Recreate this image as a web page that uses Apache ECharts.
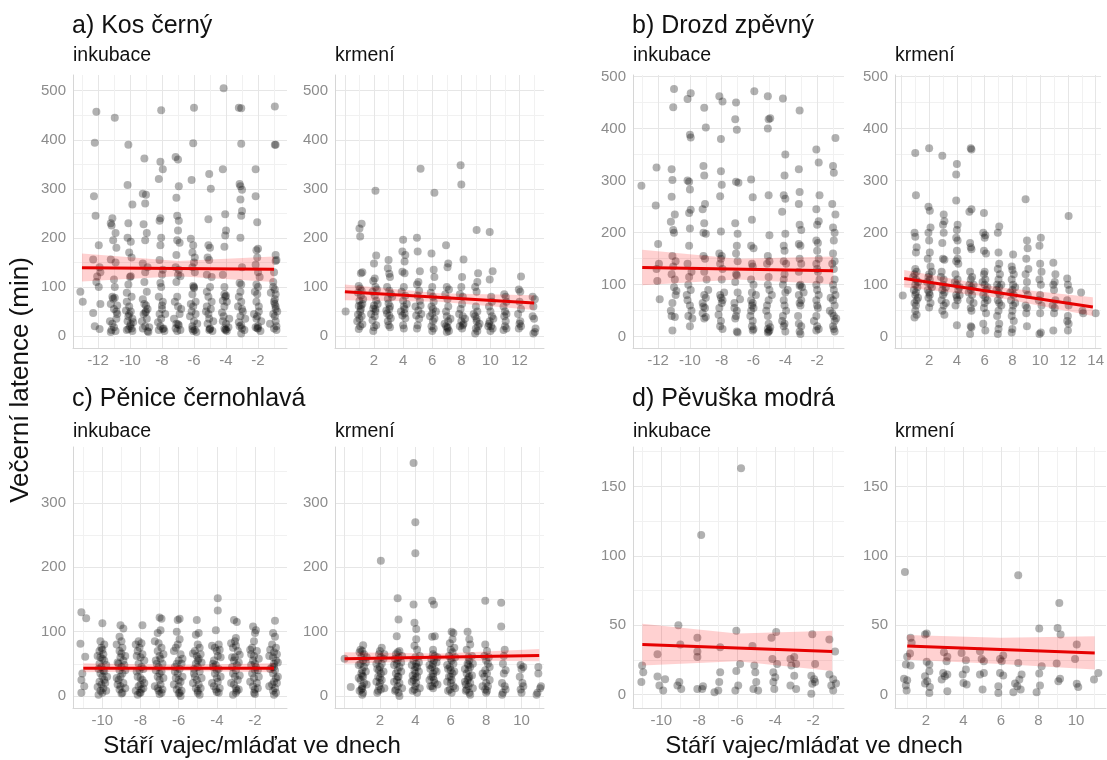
<!DOCTYPE html>
<html><head><meta charset="utf-8">
<script src="https://cdn.jsdelivr.net/npm/echarts@6/dist/echarts.min.js"></script>
<style>html,body{margin:0;padding:0;background:#fff}#c{width:1107px;height:760px}</style>
</head><body><div id="c"></div>
<script>
const FONT = "'Liberation Sans', Arial, Helvetica, sans-serif";

// ---- tick labels ----
const xLabIncLong = [-12,-10,-8,-6,-4,-2];
const xMinorIncLong = [-13,-11,-9,-7,-5,-3,-1];
const xLabIncShort = [-10,-8,-6,-4,-2];
const xMinorIncShort = [-11,-9,-7,-5,-3,-1];
const xLabKrmKos = [2,4,6,8,10,12];
const xMinorKrmKos = [1,3,5,7,9,11,13];
const xLabKrmDrozd = [2,4,6,8,10,12,14];
const xMinorKrmDrozd = [1,3,5,7,9,11,13];
const xLabKrmShort = [2,4,6,8,10];
const xMinorKrmShort = [1,3,5,7,9,11];
const yLabBig = [0,100,200,300,400,500];
const yMinorBig = [50,150,250,350,450];
const yLabPen = [0,100,200,300];
const yMinorPen = [50,150,250,350];
const yLabPev = [0,50,100,150];
const yMinorPev = [25,75,125,175];

// ---- a) Kos černý ----
const kosIncPts = [
[-13.1,90],[-12.95,70],
[-12.1,457],[-12.2,394],[-12.25,285],[-12.15,245],[-11.95,185],[-12.3,156],[-11.9,140],[-12.05,121],[-11.95,100],[-12.3,47],[-11.9,14],[-12.1,110],[-11.85,130],
[-10.95,445],[-11.1,240],[-11.2,230],[-11.15,225],[-10.9,210],[-11.05,195],[-10.85,180],[-11.2,156],[-10.9,150],[-11.0,115],[-10.95,100],[-11.1,80],[-11.05,76],[-10.95,78],[-11.0,55],[-10.85,35],[-11.1,25],[-11.15,12],[-10.9,10],[-10.8,45],[-11.2,65],[-11.0,18],
[-10.1,390],[-10.15,308],[-9.85,268],[-10.1,230],[-10.15,200],[-9.95,192],[-10.05,170],[-9.9,160],[-10.0,120],[-9.95,122],[-10.1,105],[-10.2,88],[-9.9,80],[-10.05,60],[-9.95,50],[-10.1,40],[-9.85,35],[-10.15,30],[-10.0,20],[-9.9,15],[-10.2,12],[-10.05,45],[-9.95,25],[-10.1,14],
[-9.1,362],[-9.2,290],[-9.0,288],[-9.05,270],[-9.15,228],[-8.95,210],[-9.05,195],[-9.2,148],[-8.9,140],[-9.05,130],[-9.1,110],[-8.95,90],[-9.1,65],[-8.9,55],[-9.0,50],[-9.15,45],[-8.95,35],[-9.05,20],[-9.2,15],[-8.9,10],[-9.0,62],[-9.05,48],
[-8.05,460],[-8.1,355],[-7.95,340],[-8.2,320],[-8.1,240],[-8.15,235],[-8.05,200],[-8.1,185],[-8.15,155],[-7.95,135],[-8.0,125],[-8.1,108],[-8.05,100],[-7.95,70],[-8.0,62],[-8.15,45],[-8.05,35],[-8.1,20],[-7.9,15],[-8.2,12],[-8.0,55],[-7.95,14],
[-7.15,365],[-7.0,360],[-6.95,305],[-7.1,282],[-7.05,245],[-6.95,235],[-7.0,215],[-7.05,195],[-6.9,190],[-7.1,165],[-7.15,140],[-6.95,135],[-7.0,125],[-7.1,110],[-7.05,80],[-7.0,60],[-6.9,45],[-7.1,25],[-6.95,22],[-7.15,15],[-7.05,10],[-6.85,122],[-7.0,24],
[-6.0,465],[-6.05,393],[-6.15,318],[-6.2,198],[-6.05,185],[-6.1,170],[-5.95,160],[-6.0,150],[-6.1,140],[-5.95,130],[-6.0,100],[-6.05,102],[-6.1,85],[-5.9,70],[-6.05,60],[-6.15,50],[-5.9,45],[-6.0,30],[-6.1,20],[-5.95,12],[-6.05,10],[-6.0,98],[-6.1,14],
[-5.05,330],[-4.95,300],[-5.1,238],[-5.1,185],[-5.0,180],[-5.15,160],[-5.05,155],[-5.2,125],[-4.9,120],[-5.0,100],[-5.1,80],[-5.2,60],[-4.95,55],[-5.05,35],[-5.15,25],[-5.0,15],[-5.05,12],[-4.9,70],[-5.1,45],[-5.0,14],
[-4.15,505],[-4.2,340],[-4.05,248],[-4.0,215],[-4.05,205],[-4.1,182],[-4.2,125],[-4.1,100],[-4.05,80],[-4.0,82],[-3.95,70],[-4.1,60],[-4.15,40],[-4.0,25],[-4.1,15],[-4.05,12],[-3.95,10],[-4.2,30],[-4.0,13],[-4.1,85],
[-3.2,465],[-3.05,464],[-3.05,392],[-3.15,310],[-3.1,305],[-3.0,298],[-3.1,278],[-3.0,255],[-3.05,245],[-3.1,200],[-3.0,140],[-3.05,105],[-3.15,108],[-3.1,90],[-3.05,70],[-3.0,55],[-3.1,40],[-3.15,20],[-3.0,15],[-3.05,5],[-3.2,28],[-2.95,50],[-3.05,22],
[-2.15,340],[-2.15,285],[-2.05,232],[-2.1,175],[-2.0,178],[-2.05,160],[-2.15,145],[-2.0,130],[-1.9,120],[-2.1,105],[-2.0,100],[-2.05,85],[-2.1,70],[-1.95,50],[-2.05,40],[-2.1,35],[-2.0,20],[-2.15,18],[-2.0,15],[-1.95,60],[-2.05,16],
[-0.95,468],[-0.95,390],[-0.9,390],[-0.9,165],[-0.85,155],[-0.9,153],[-1.0,130],[-1.05,110],[-0.95,95],[-0.9,85],[-0.95,75],[-1.0,70],[-0.9,60],[-1.05,45],[-0.95,40],[-0.9,30],[-1.0,15],[-0.85,12],[-1.05,100],[-0.9,55],[-0.95,65]
];
const kosIncDense = [
[-12.2,20],[-11.85,65],[-11.25,30],[-10.8,62],[-11.2,8],[-10.85,50],[-10.25,52],[-9.8,28],[-10.2,70],[-9.85,10],
[-9.25,30],[-8.8,18],[-9.2,75],[-8.85,8],[-8.25,28],[-7.8,45],[-8.2,80],[-7.85,10],[-7.25,35],[-6.8,55],[-7.2,70],[-6.85,12],
[-6.25,40],[-5.8,25],[-6.2,65],[-5.85,8],[-5.25,50],[-4.8,30],[-5.2,90],[-4.85,10],[-4.25,48],[-3.8,35],[-4.2,72],[-3.85,18],
[-3.25,60],[-2.8,35],[-3.2,80],[-2.85,12],[-2.25,45],[-1.8,30],[-2.2,90],[-1.85,10],[-1.25,25],[-0.8,50],[-1.2,88],[-0.85,20]
];
const kosIncFit = [[-13,139],[-1,136]];
const kosIncBand = [[-13,111,168],[-7,122,153],[-1,110,162]];

const kosKrmPts = [
[0.05,50],
[1.0,219],[1.15,229],[1.05,203],[1.2,130],[1.1,128],[0.95,102],[1.05,97],[1.15,92],[0.9,88],[1.1,82],[1.0,72],[1.2,65],[0.95,61],[1.1,55],[1.05,50],[0.9,44],[1.15,40],[1.0,35],[1.2,24],[1.05,20],[0.95,14],[1.1,62],
[2.1,296],[2.15,164],[2.0,148],[2.05,117],[1.95,112],[2.1,100],[2.2,95],[1.9,90],[2.05,82],[2.15,72],[2.0,62],[1.95,56],[2.1,50],[2.05,40],[1.9,32],[2.15,22],[2.0,18],[1.95,10],[2.1,55],
[3.0,155],[2.95,138],[3.05,127],[3.1,120],[2.9,100],[3.05,92],[3.15,86],[2.95,76],[3.0,66],[3.1,60],[2.9,46],[3.05,42],[3.15,36],[2.95,30],[3.0,22],[3.1,18],[3.05,55],
[3.95,172],[4.0,196],[4.15,165],[4.1,152],[3.95,131],[4.1,128],[4.05,100],[3.9,90],[4.15,82],[4.0,72],[4.05,60],[4.1,46],[3.95,42],[4.15,36],[4.0,22],[4.05,15],[4.1,55],
[5.2,341],[4.95,200],[5.0,172],[5.15,132],[5.05,110],[4.95,105],[5.1,92],[5.0,82],[5.15,72],[5.05,52],[4.9,42],[5.1,35],[5.0,22],[4.95,15],[5.2,62],
[6.15,292],[5.95,168],[6.1,135],[6.15,120],[6.0,100],[5.9,88],[6.05,80],[6.1,70],[5.95,60],[6.0,46],[6.15,35],[6.05,30],[5.95,20],[6.1,15],[6.0,10],[6.05,55],
[6.95,185],[7.1,148],[7.05,140],[7.0,100],[7.15,95],[6.9,85],[7.05,75],[7.1,60],[6.95,50],[7.0,40],[7.1,30],[6.95,20],[7.05,15],[7.15,10],[7.0,8],[7.05,18],
[7.95,348],[8.0,309],[8.15,156],[8.05,120],[8.0,100],[7.9,85],[8.1,80],[8.05,65],[7.95,55],[8.1,40],[8.0,30],[8.15,25],[7.9,20],[8.05,15],[8.1,22],
[9.05,216],[9.15,128],[9.1,110],[8.95,100],[9.05,90],[9.0,60],[9.1,50],[8.95,40],[9.05,30],[9.15,20],[9.0,15],[9.1,10],[8.95,5],[9.05,35],
[9.95,212],[10.15,132],[9.95,115],[10.05,80],[10.1,70],[9.9,60],[10.0,50],[10.1,40],[9.95,30],[10.05,20],[10.15,15],[10.0,10],[9.9,25],
[10.95,85],[11.05,80],[11.1,70],[10.9,60],[11.0,50],[11.1,45],[10.95,40],[11.05,30],[11.0,20],[11.1,15],[10.9,12],
[12.1,121],[11.95,95],[12.05,90],[12.0,70],[12.1,55],[11.9,45],[12.05,30],[12.0,25],[12.1,20],[11.95,15],
[12.9,80],[13.05,75],[12.95,60],[12.9,40],[13.0,35],[13.1,15],[13.05,8],[12.95,5]
];
const kosKrmDense = [
[1.25,75],[0.85,30],[2.25,65],[1.8,45],[3.25,80],[2.85,52],[4.25,65],[3.85,50],[5.25,45],[4.85,60],
[6.25,50],[5.85,40],[7.25,35],[6.85,25],[8.25,35],[7.85,45],[9.25,25],[8.85,45],[10.2,35],[9.85,20]
];
const kosKrmFit = [[0,90],[13,67]];
const kosKrmBand = [[0,73,105],[6.5,70,87],[13,53,83]];

// ---- b) Drozd zpěvný ----
const drozdIncPts = [
[-13.05,290],
[-12.1,325],[-12.15,252],[-12.0,178],[-11.95,140],[-12.1,130],[-12.05,107],[-11.9,72],
[-11.0,476],[-11.05,441],[-11.15,322],[-11.1,301],[-11.15,269],[-10.95,235],[-11.2,221],[-11.05,205],[-11.0,200],[-11.1,155],[-10.9,145],[-11.05,135],[-11.15,120],[-10.95,110],[-11.0,95],[-10.9,80],[-11.1,65],[-11.15,40],[-10.95,38],[-11.1,12],
[-10.15,457],[-9.95,468],[-10.0,388],[-9.95,383],[-10.15,300],[-10.05,298],[-10.0,283],[-9.95,244],[-10.05,238],[-10.0,208],[-10.05,175],[-10.15,140],[-9.9,125],[-10.05,115],[-10.1,100],[-9.95,90],[-10.15,70],[-10.0,60],[-9.9,50],[-10.1,40],[-10.0,20],
[-9.1,440],[-9.0,402],[-9.15,328],[-9.1,310],[-9.05,255],[-9.2,245],[-9.1,218],[-9.15,200],[-9.0,198],[-9.15,155],[-9.05,150],[-9.1,125],[-8.95,110],[-9.1,80],[-9.0,75],[-9.15,58],[-9.05,55],[-9.2,45],[-9.0,38],[-9.1,35],
[-8.15,462],[-7.95,452],[-8.05,380],[-8.05,318],[-8.0,292],[-8.1,270],[-8.05,202],[-8.15,160],[-8.0,155],[-8.05,150],[-8.1,140],[-7.95,130],[-8.0,110],[-8.1,80],[-8.05,75],[-7.95,70],[-8.0,65],[-8.15,55],[-8.05,30],[-8.1,20],[-7.95,15],
[-7.1,450],[-7.15,418],[-7.05,398],[-7.1,298],[-6.95,296],[-7.15,218],[-7.0,198],[-7.05,175],[-7.1,160],[-7.0,145],[-7.1,120],[-7.05,118],[-7.15,105],[-7.0,85],[-7.2,65],[-7.05,50],[-7.1,40],[-7.15,35],[-7.05,10],[-7.0,8],
[-5.95,472],[-6.15,302],[-6.05,268],[-6.1,225],[-6.15,175],[-6.0,170],[-6.1,140],[-6.05,135],[-6.15,110],[-6.0,100],[-6.1,85],[-6.15,70],[-6.05,65],[-6.1,60],[-6.0,55],[-6.15,50],[-6.05,30],[-6.1,20],[-6.0,15],[-6.05,12],
[-5.1,462],[-5.05,418],[-4.95,420],[-5.1,400],[-5.05,272],[-5.0,195],[-5.1,155],[-5.0,145],[-5.15,140],[-5.05,115],[-5.1,100],[-5.0,90],[-5.05,70],[-5.15,60],[-5.1,40],[-5.05,25],[-4.95,18],[-5.1,15],[-5.0,12],[-5.05,10],[-5.1,8],
[-4.15,458],[-4.0,350],[-4.05,310],[-4.1,272],[-4.0,265],[-4.2,240],[-4.0,198],[-4.1,175],[-4.05,165],[-4.1,145],[-3.95,140],[-4.05,120],[-4.1,110],[-4.15,100],[-4.0,85],[-4.1,70],[-4.05,60],[-3.95,50],[-4.15,40],[-4.05,25],[-4.1,20],[-4.0,10],
[-3.1,435],[-3.15,322],[-3.1,278],[-3.15,255],[-3.1,215],[-3.0,205],[-3.15,178],[-3.05,175],[-3.1,150],[-3.0,140],[-3.15,125],[-3.05,100],[-3.1,98],[-2.95,95],[-3.15,80],[-3.0,70],[-3.1,65],[-3.05,60],[-3.15,25],[-3.0,20],[-3.1,10],[-3.05,5],
[-2.05,360],[-1.9,335],[-1.85,272],[-2.05,245],[-1.9,222],[-2.0,215],[-2.05,185],[-1.95,180],[-2.0,165],[-1.9,150],[-2.05,140],[-2.0,130],[-1.95,125],[-2.05,100],[-2.0,90],[-1.9,80],[-2.05,70],[-2.0,60],[-1.95,55],[-2.05,40],[-2.0,20],[-1.9,15],[-2.05,12],
[-0.85,382],[-1.0,328],[-0.95,315],[-1.05,255],[-0.85,235],[-1.0,210],[-0.9,200],[-0.95,185],[-1.0,160],[-0.9,145],[-1.05,140],[-0.95,130],[-0.9,110],[-1.0,100],[-0.95,90],[-0.85,80],[-1.0,70],[-0.9,60],[-1.05,45],[-0.95,40],[-0.9,30],[-1.0,20],[-0.95,15],[-0.9,10]
];
const drozdIncDense = [
[-11.2,50],[-10.85,88],[-10.2,80],[-9.85,35],[-9.2,65],[-8.85,90],[-8.2,42],[-7.85,85],[-7.2,55],[-6.85,72],
[-6.2,40],[-5.85,80],[-5.2,50],[-4.85,80],[-4.2,30],[-3.85,90],[-3.2,40],[-2.85,85],[-2.2,30],[-1.85,110],
[-1.2,50],[-0.8,35],[-1.15,75]
];
const drozdIncFit = [[-13,133],[-1,127]];
const drozdIncBand = [[-13,99,167],[-7,110,150],[-1,101,154]];

const drozdKrmPts = [
[0.1,79],
[1.0,353],[1.05,272],[0.95,200],[1.0,192],[1.1,172],[1.05,162],[1.0,130],[1.1,125],[0.95,120],[1.05,110],[1.0,100],[1.15,95],[0.9,90],[1.05,85],[1.0,80],[1.1,70],[0.95,65],[1.05,60],[1.0,50],[1.1,42],[0.95,37],
[2.0,362],[1.95,250],[2.05,242],[2.1,210],[1.95,200],[2.0,185],[2.05,162],[1.9,150],[2.1,135],[2.0,120],[1.95,115],[2.05,110],[2.1,100],[1.9,90],[2.0,85],[2.05,80],[1.95,75],[2.1,65],[2.0,56],
[2.95,348],[3.05,235],[3.1,222],[3.0,215],[3.05,200],[2.95,180],[3.0,150],[3.1,148],[2.9,125],[3.05,110],[3.0,100],[2.95,90],[3.1,85],[3.0,80],[2.9,70],[3.05,60],[2.95,50],[3.1,42],
[4.0,332],[3.95,312],[3.95,262],[4.05,215],[4.0,205],[3.95,190],[4.05,185],[4.0,165],[4.05,150],[3.95,145],[4.1,140],[3.9,120],[4.05,110],[4.0,100],[4.1,90],[3.95,80],[4.0,75],[4.05,70],[3.9,60],[4.0,22],
[5.0,362],[5.05,360],[4.9,240],[5.05,245],[4.95,180],[5.0,172],[5.05,168],[4.95,125],[5.1,115],[5.0,110],[4.9,100],[5.05,95],[5.0,90],[5.1,80],[4.95,70],[5.0,55],[5.05,50],[5.0,20],[5.05,18],[4.95,5],
[5.95,238],[5.9,200],[6.05,195],[6.0,190],[5.95,165],[6.1,160],[6.0,125],[5.95,120],[6.05,110],[6.0,100],[6.1,90],[5.9,80],[6.05,75],[6.0,65],[5.95,55],[6.1,45],[5.9,25],[6.05,12],
[7.05,212],[6.95,200],[7.0,162],[7.05,140],[6.95,130],[7.1,120],[7.0,110],[6.9,100],[7.05,95],[7.0,85],[7.1,80],[6.95,70],[7.05,65],[7.0,50],[6.9,40],[7.05,25],[7.0,15],[6.95,5],
[8.05,158],[7.95,135],[8.0,128],[8.1,120],[7.95,110],[8.05,100],[8.0,90],[8.1,80],[7.9,70],[8.05,60],[8.0,50],[7.95,40],[8.1,30],[8.0,15],[7.95,8],
[8.95,264],[9.05,185],[9.1,170],[9.0,150],[9.15,130],[8.95,120],[9.05,105],[9.0,90],[9.1,80],[8.95,60],[9.05,55],[9.0,45],[9.05,20],
[10.05,190],[9.95,175],[10.0,140],[10.1,125],[9.95,110],[10.05,100],[10.0,80],[9.9,70],[10.1,60],[10.0,45],[10.05,8],[9.95,5],
[10.95,142],[11.1,120],[11.05,105],[10.95,100],[11.0,90],[11.1,70],[10.9,60],[11.05,55],[11.0,45],[10.95,12],
[12.05,232],[11.95,112],[12.0,100],[12.1,90],[11.95,70],[12.05,60],[12.0,40],[11.95,30],[12.05,25],[12.0,12],
[12.95,85],[13.05,50],[13.1,45],
[14.0,45]
];
const drozdKrmDense = [
[1.2,105],[0.85,115],[1.2,75],[2.2,95],[1.85,105],[2.2,125],[3.2,95],[2.85,115],[3.2,65],[4.2,95],[3.85,105],[4.2,80],
[5.2,100],[4.85,85],[5.2,65],[6.2,95],[5.85,105],[6.2,70],[7.2,100],[6.85,90],[7.2,60],[8.2,95],[7.85,85],[8.2,65]
];
const drozdKrmFit = [[0.2,112],[13.8,57]];
const drozdKrmBand = [[0.2,95,128],[7,75,95],[13.8,40,76]];

// ---- c) Pěnice černohlavá ----
const penIncPts = [
[-11.1,130],[-10.85,121],[-11.15,81],[-10.9,61],[-11.05,35],[-11.1,25],[-10.95,15],[-11.1,5],
[-10.0,113],[-10.1,85],[-9.9,80],[-10.05,75],[-10.15,70],[-9.95,65],[-10.1,60],[-10.0,58],[-9.9,55],[-10.15,50],[-10.05,45],[-9.95,40],[-10.1,35],[-10.0,30],[-9.9,25],[-10.15,22],[-10.05,18],[-9.95,12],[-10.1,8],[-10.0,5],
[-9.05,110],[-8.9,105],[-9.1,92],[-9.0,85],[-8.95,75],[-9.1,70],[-9.05,60],[-8.9,55],[-9.15,50],[-9.0,45],[-9.1,40],[-8.95,35],[-9.05,30],[-9.15,25],[-8.9,20],[-9.05,15],[-9.1,10],[-8.95,5],
[-7.9,110],[-8.1,85],[-7.95,82],[-8.05,75],[-8.15,70],[-7.9,65],[-8.0,60],[-8.1,50],[-7.95,45],[-8.05,40],[-8.15,30],[-7.9,25],[-8.0,18],[-8.1,15],[-7.95,10],[-8.05,5],[-8.15,2],
[-7.0,122],[-6.9,120],[-6.95,102],[-7.1,98],[-7.05,82],[-6.9,75],[-7.1,70],[-7.0,62],[-6.95,58],[-7.15,50],[-7.05,45],[-6.9,38],[-7.1,30],[-7.0,25],[-6.95,18],[-7.1,12],[-7.05,8],[-6.9,5],
[-5.95,120],[-6.05,118],[-6.1,100],[-5.95,88],[-6.05,80],[-6.15,75],[-5.9,65],[-6.0,55],[-6.1,50],[-5.95,42],[-6.05,35],[-6.15,28],[-5.9,22],[-6.0,15],[-6.1,10],[-5.95,5],[-5.9,0],
[-5.05,118],[-4.95,98],[-5.1,95],[-5.0,80],[-4.9,75],[-5.15,70],[-5.05,62],[-4.95,58],[-5.1,50],[-5.0,45],[-4.9,38],[-5.15,30],[-5.05,25],[-4.95,18],[-5.1,12],[-5.0,8],[-4.9,2],
[-3.95,152],[-3.95,133],[-4.05,102],[-3.9,80],[-4.1,75],[-4.0,70],[-3.95,62],[-4.15,55],[-4.05,48],[-3.9,42],[-4.1,35],[-4.0,28],[-3.95,22],[-4.15,15],[-4.05,10],[-3.9,5],
[-3.1,118],[-2.95,115],[-3.0,90],[-3.05,85],[-3.15,75],[-2.9,70],[-3.05,60],[-3.1,55],[-2.95,48],[-3.0,40],[-3.15,35],[-3.05,30],[-2.9,25],[-3.1,18],[-3.0,12],[-2.95,8],[-3.15,2],
[-2.1,108],[-1.95,102],[-2.0,98],[-2.05,85],[-2.15,75],[-1.9,70],[-2.05,62],[-2.1,55],[-1.95,45],[-2.0,40],[-2.15,35],[-2.05,28],[-1.9,20],[-2.1,15],[-2.0,10],[-2.05,5],
[-0.95,117],[-1.05,98],[-0.95,92],[-1.1,80],[-0.9,75],[-1.0,68],[-1.05,60],[-0.9,55],[-1.0,50],[-1.1,45],[-0.95,40],[-1.05,35],[-0.9,28],[-1.0,22],[-1.1,18],[-0.95,12],[-1.05,8],[-0.9,5]
];
const penIncDense = [
[-10.25,62],[-9.8,48],[-10.2,42],[-9.75,30],[-10.25,14],[-9.8,8],[-10.0,72],[-9.85,20],[-10.2,2],[-9.9,38],
[-9.25,80],[-8.8,62],[-9.2,52],[-8.8,40],[-9.25,28],[-8.8,12],[-9.0,4],[-9.2,18],[-8.85,48],[-9.0,66],
[-8.25,80],[-7.8,55],[-8.2,38],[-7.8,20],[-8.25,8],[-7.85,12],[-8.0,28],[-8.2,62],[-7.85,42],[-8.0,5],
[-7.25,85],[-6.8,65],[-7.2,40],[-6.8,28],[-7.25,15],[-6.85,10],[-7.0,3],[-7.2,55],[-6.85,50],[-7.0,35],
[-6.25,70],[-5.8,58],[-6.2,45],[-5.8,30],[-6.25,18],[-5.85,8],[-6.0,4],[-6.2,38],[-5.85,50],[-6.0,25],
[-5.25,66],[-4.8,52],[-5.2,42],[-4.8,28],[-5.25,20],[-4.85,12],[-5.0,5],[-5.2,35],[-4.85,65],[-5.0,55],
[-4.25,78],[-3.8,60],[-4.2,50],[-3.8,30],[-4.25,20],[-3.85,12],[-4.0,6],[-4.2,45],[-3.85,72],[-4.0,40],
[-3.25,82],[-2.8,64],[-3.2,45],[-2.8,32],[-3.25,20],[-2.85,10],[-3.0,5],[-3.2,60],[-2.85,52],[-3.0,78],
[-2.25,72],[-1.8,58],[-2.2,48],[-1.8,30],[-2.25,22],[-1.85,12],[-2.0,3],[-2.2,65],[-1.85,40],[-2.0,50],
[-1.25,62],[-0.8,52],[-1.2,42],[-0.8,30],[-1.25,15],[-0.85,20],[-1.0,2],[-1.2,72],[-0.85,65],[-1.0,45]
];
const penIncFit = [[-11,43],[-1,43]];
const penIncBand = [[-11,37,51],[-6,39,48],[-1,37,51]];

const penKrmPts = [
[0.0,58],[0.35,14],
[1.05,79],[0.9,72],[1.0,70],[1.1,65],[0.95,60],[1.05,55],[0.9,50],[1.1,45],[1.0,40],[0.95,35],[1.05,30],[0.9,25],[1.1,20],[1.0,15],[0.95,10],[1.05,5],[1.0,2],
[2.05,210],[2.1,75],[1.95,65],[2.05,60],[1.9,55],[2.1,50],[2.0,45],[1.95,40],[2.05,35],[1.9,30],[2.1,25],[2.0,20],[1.95,15],[2.05,10],[1.9,8],
[3.0,152],[3.05,119],[2.95,93],[3.1,70],[2.9,65],[3.05,60],[3.0,55],[2.95,50],[3.1,45],[3.0,40],[2.9,35],[3.05,30],[2.95,25],[3.1,20],[3.0,15],[2.9,10],[3.05,5],[3.1,0],
[3.9,362],[4.0,270],[4.0,222],[3.9,142],[3.95,114],[4.05,104],[4.05,88],[3.95,78],[4.1,72],[4.0,60],[3.9,55],[4.05,50],[4.1,45],[3.95,40],[4.0,35],[4.1,30],[3.9,25],[4.05,20],[4.0,15],[3.95,10],[4.1,5],
[4.95,148],[5.05,142],[5.1,93],[4.95,92],[5.0,72],[5.1,62],[4.9,58],[5.05,55],[5.0,50],[4.95,45],[5.1,40],[5.0,35],[4.9,30],[5.05,25],[5.1,20],[4.95,15],[5.0,12],
[6.05,100],[6.15,98],[6.1,88],[5.95,82],[6.0,72],[6.1,68],[5.9,62],[6.05,55],[6.15,50],[5.95,45],[6.0,40],[6.1,35],[5.9,30],[6.05,25],[6.0,20],[6.15,15],[5.95,10],[6.05,5],
[6.95,100],[7.05,88],[7.1,80],[6.9,72],[7.0,60],[7.05,55],[6.95,50],[7.1,45],[7.0,40],[6.9,35],[7.05,30],[6.95,25],[7.1,20],[7.0,15],[6.9,10],[7.05,5],[7.1,2],
[7.95,148],[7.95,80],[8.05,70],[7.9,62],[8.0,55],[8.1,50],[7.95,40],[8.05,35],[7.9,30],[8.0,20],[8.1,15],[7.95,10],[8.05,8],
[8.85,145],[8.85,108],[9.05,72],[9.0,62],[8.95,50],[9.1,40],[9.0,35],[8.9,20],[9.05,15],[9.1,10],[8.95,5],[8.9,2],
[9.95,48],[10.1,45],[10.0,42],[9.9,30],[10.05,20],[10.1,15],[9.95,10],[10.0,5],
[10.95,45],[10.95,35],[11.1,15],[11.05,12],[10.9,5],[10.85,2]
];
const penKrmDense = [
[1.25,60],[0.8,48],[1.2,38],[0.8,28],[1.25,18],[0.85,8],[1.0,12],[1.2,52],[0.85,68],[1.0,32],
[2.25,65],[1.8,50],[2.2,38],[1.8,22],[2.25,12],[1.85,5],[2.0,28],[2.2,58],[1.85,42],[2.0,70],
[3.25,62],[2.8,48],[3.2,38],[2.8,22],[3.25,12],[2.85,8],[3.0,30],[3.2,52],[2.85,58],[3.0,68],
[4.25,62],[3.8,48],[4.2,38],[3.8,22],[4.25,12],[3.85,8],[4.0,28],[4.2,52],[3.85,32],[4.0,45],
[5.25,60],[4.8,48],[5.2,38],[4.8,25],[5.25,18],[4.85,15],[5.0,30],[5.2,52],[4.85,42],[5.0,65],
[6.25,60],[5.8,48],[6.2,38],[5.8,22],[6.25,12],[5.85,8],[6.0,30],[6.2,75],[5.85,42],[6.0,58],
[7.25,50],[6.8,42],[7.2,32],[6.8,22],[7.25,12],[6.85,8],[7.0,28],[7.2,62],[6.85,18],[7.0,48],
[8.2,45],[7.8,35],[8.2,25],[7.8,15],[8.0,5],[8.15,60]
];
const penKrmFit = [[0,58],[11,63]];
const penKrmBand = [[0,50,68],[5.5,55,66],[11,54,73]];

// ---- d) Pěvuška modrá ----
const pevIncPts = [
[-11.01,21],[-10.95,16],[-11.05,9],[-10.2,29],[-10.2,13],[-10.1,6.5],[-9.8,11],[-9.9,3],
[-9.1,50],[-9.0,36],[-9.15,6.5],[-8.95,4],[-9.05,9],
[-8.1,41],[-8.1,31],[-8.1,27],[-7.9,115],[-8.1,4],[-7.85,4],[-7.8,6],
[-7.2,1.7],[-7.0,3],[-6.9,34],[-6.9,16],[-6.95,9],
[-6.05,46],[-5.85,22],[-6.05,17],[-6.1,3],[-5.95,6.5],[-5.8,163],
[-5.2,35],[-5.1,21],[-5.05,16],[-5.0,9],[-5.15,4],[-4.9,3],
[-4.2,41],[-3.95,45],[-4.15,25.6],[-3.9,22],[-4.1,16],[-4.1,9],[-4.0,12.5],[-4.05,4],
[-3.2,25.6],[-3.0,27],[-3.15,21],[-2.9,22],[-3.2,6.5],[-2.9,4],[-3.0,13.6],
[-2.05,43.5],[-1.9,22],[-2.1,13.6],[-1.95,11],[-2.05,7.7],[-1.9,9],[-2.1,0.5],
[-1.15,39.6],[-0.85,31],[-1.15,14.4],[-0.95,11],[-1.05,6.5],[-0.8,8],[-0.95,3]
];
const pevIncFit = [[-11,36],[-1,31]];
const pevIncBand = [[-11,21,51],[-6,24,44],[-1,17,46]];

const pevKrmPts = [
[0.88,88.4],[1.18,40.9],[1.24,37.3],[1.15,29.6],[1.0,27.2],[0.93,21.6],[1.18,20.9],[0.83,11.3],[1.0,10.3],[0.93,6.5],[0.97,2.9],
[1.95,43.3],[2.04,44],[2.04,23.6],[2.18,21.6],[2.18,16.8],[1.95,13.2],[2.07,9.6],[1.95,8],[2.21,5.5],[2.18,1.2],
[2.96,30.5],[3.1,24],[3.14,27.2],[2.92,15.6],[3.01,13.2],[2.84,10.8],[3.14,14.4],[3.14,2.4],
[3.9,30],[4.13,24.7],[4.13,18],[3.96,14.4],[4.0,8.4],[4.17,7.2],
[4.88,31.2],[4.97,25.7],[5.09,24],[4.88,14.4],[5.09,15.6],[5.02,3.6],
[6.12,28.1],[5.95,25.7],[6.04,24],[5.95,15.6],[6.12,13.7],[5.86,6],[5.86,1.2],
[6.92,86],[6.92,22.8],[7.1,14.4],[6.98,10.8],[6.75,8],[6.87,6],[7.05,3.6],[6.66,1.7],
[8.04,47.6],[8.17,20.4],[8.04,15.1],[8.08,6.5],[7.9,1.7],
[9.02,48],[9.11,66],[9.18,43.3],[8.97,22.3],[9.15,11.3],[9.06,9.6],
[10.04,36],[9.95,25.7],[10.04,7.7],[10.12,5.5],
[10.96,10.8],[11.19,15.6]
];
const pevKrmFit = [[1,35],[11,30]];
const pevKrmBand = [[1,25,43],[6,22,41],[11,18,42]];

// ---- layout (positions / ranges) ----
const panels = [
 {left:73, top:75, width:214, height:273, xmin:-13.56, xmax:-0.19, ymin:-24.5, ymax:532, pts:kosIncPts.concat(kosIncDense), fit:kosIncFit, band:kosIncBand, xLab:xLabIncLong, xMaj:xLabIncLong, xMin:xMinorIncLong, yLab:yLabBig, yMin:yMinorBig},
 {left:335, top:75, width:209, height:273, xmin:-0.68, xmax:13.68, ymin:-24.5, ymax:532, pts:kosKrmPts.concat(kosKrmDense), fit:kosKrmFit, band:kosKrmBand, xLab:xLabKrmKos, xMaj:[0].concat(xLabKrmKos), xMin:xMinorKrmKos, yLab:yLabBig, yMin:yMinorBig},
 {left:633, top:75, width:211, height:273, xmin:-13.58, xmax:-0.31, ymin:-21.7, ymax:503, pts:drozdIncPts.concat(drozdIncDense), fit:drozdIncFit, band:drozdIncBand, xLab:xLabIncLong, xMaj:xLabIncLong, xMin:xMinorIncLong, yLab:yLabBig, yMin:yMinorBig},
 {left:895, top:75, width:211, height:273, xmin:-0.46, xmax:14.39, ymin:-21.7, ymax:503, pts:drozdKrmPts.concat(drozdKrmDense), fit:drozdKrmFit, band:drozdKrmBand, xLab:xLabKrmDrozd, xMaj:[0].concat(xLabKrmDrozd), xMin:xMinorKrmDrozd, yLab:yLabBig, yMin:yMinorBig},
 {left:73, top:447, width:214, height:261, xmin:-11.54, xmax:-0.32, ymin:-18.7, ymax:387, pts:penIncPts.concat(penIncDense), fit:penIncFit, band:penIncBand, xLab:xLabIncShort, xMaj:xLabIncShort, xMin:xMinorIncShort, yLab:yLabPen, yMin:yMinorPen},
 {left:335, top:447, width:209, height:261, xmin:-0.54, xmax:11.27, ymin:-18.7, ymax:387, pts:penKrmPts.concat(penKrmDense), fit:penKrmFit, band:penKrmBand, xLab:xLabKrmShort, xMaj:[0].concat(xLabKrmShort), xMin:xMinorKrmShort, yLab:yLabPen, yMin:yMinorPen},
 {left:633, top:447, width:211, height:261, xmin:-11.49, xmax:-0.38, ymin:-9.7, ymax:178.4, pts:pevIncPts, fit:pevIncFit, band:pevIncBand, xLab:xLabIncShort, xMaj:xLabIncShort, xMin:xMinorIncShort, yLab:yLabPev, yMin:yMinorPev},
 {left:895, top:447, width:211, height:261, xmin:0.35, xmax:11.6, ymin:-9.7, ymax:178.4, pts:pevKrmPts, fit:pevKrmFit, band:pevKrmBand, xLab:xLabKrmShort, xMaj:xLabKrmShort, xMin:xMinorKrmShort, yLab:yLabPev, yMin:yMinorPev}
];

const grids = [], xAxes = [], yAxes = [], series = [];
const TICKC = '#8c8c8c', MAJ = '#e6e6e6', MINC = '#f1f1f1', AXL = '#d6d6d6';
panels.forEach((p, i) => {
  grids.push({left:p.left, top:p.top, width:p.width, height:p.height, containLabel:false});
  xAxes.push({type:'value', gridIndex:i, min:p.xmin, max:p.xmax, position:'bottom',
    axisLine:{show:true, onZero:false, lineStyle:{color:AXL, width:1}},
    axisTick:{show:false, customValues:p.xMaj},
    axisLabel:{customValues:p.xLab, color:TICKC, fontSize:15, fontFamily:FONT, margin:5},
    splitLine:{show:true, lineStyle:{color:MAJ, width:1}}});
  xAxes.push({type:'value', gridIndex:i, min:p.xmin, max:p.xmax, position:'top',
    axisLine:{show:false}, axisTick:{show:false, customValues:p.xMin}, axisLabel:{show:false},
    splitLine:{show:true, lineStyle:{color:MINC, width:1}}});
  yAxes.push({type:'value', gridIndex:i, min:p.ymin, max:p.ymax, position:'left',
    axisLine:{show:true, onZero:false, lineStyle:{color:AXL, width:1}},
    axisTick:{show:false, customValues:p.yLab},
    axisLabel:{customValues:p.yLab, color:TICKC, fontSize:15, fontFamily:FONT, margin:7},
    splitLine:{show:true, lineStyle:{color:MAJ, width:1}}});
  yAxes.push({type:'value', gridIndex:i, min:p.ymin, max:p.ymax, position:'right',
    axisLine:{show:false}, axisTick:{show:false, customValues:p.yMin}, axisLabel:{show:false},
    splitLine:{show:true, lineStyle:{color:MINC, width:1}}});
  const xi = 2*i, yi = 2*i;
  series.push({type:'scatter', xAxisIndex:xi, yAxisIndex:yi, data:p.pts, symbolSize:8,
    itemStyle:{color:'rgba(0,0,0,0.38)'}, z:2, silent:true});
  const band = p.band;
  series.push({type:'custom', xAxisIndex:xi, yAxisIndex:yi, data:band, z:3, silent:true,
    encode:{x:0, y:1},
    renderItem:function(params, api){
      if (params.dataIndex !== 0) return null;
      const up = band.map(b => api.coord([b[0], b[2]]));
      const lo = band.map(b => api.coord([b[0], b[1]])).reverse();
      return {type:'polygon', shape:{points:up.concat(lo)}, style:{fill:'rgba(255,0,0,0.18)'}};
    }});
  series.push({type:'line', xAxisIndex:xi, yAxisIndex:yi, data:p.fit, symbol:'none', z:4, silent:true,
    lineStyle:{color:'#e60000', width:3}});
});

const titleStyle = {fontSize:25, fontWeight:'normal', color:'#111', fontFamily:FONT};
const stripStyle = {fontSize:19.5, fontWeight:'normal', color:'#111', fontFamily:FONT};
const titles = [
 {text:'a) Kos černý', left:72, top:14, padding:0, textStyle:titleStyle},
 {text:'b) Drozd zpěvný', left:632, top:14, padding:0, textStyle:titleStyle},
 {text:'c) Pěnice černohlavá', left:72, top:387, padding:0, textStyle:titleStyle},
 {text:'d) Pěvuška modrá', left:632, top:387, padding:0, textStyle:titleStyle},
 {text:'inkubace', left:73, top:46, padding:0, textStyle:stripStyle},
 {text:'krmení', left:335, top:46, padding:0, textStyle:stripStyle},
 {text:'inkubace', left:633, top:46, padding:0, textStyle:stripStyle},
 {text:'krmení', left:895, top:46, padding:0, textStyle:stripStyle},
 {text:'inkubace', left:73, top:422, padding:0, textStyle:stripStyle},
 {text:'krmení', left:335, top:422, padding:0, textStyle:stripStyle},
 {text:'inkubace', left:633, top:422, padding:0, textStyle:stripStyle},
 {text:'krmení', left:895, top:422, padding:0, textStyle:stripStyle}
];

const chart = echarts.init(document.getElementById('c'));
chart.setOption({
  animation:false,
  backgroundColor:'#ffffff',
  title: titles,
  grid: grids, xAxis: xAxes, yAxis: yAxes, series: series,
  graphic: [
    {type:'text', x:21, y:380, rotation:Math.PI/2,
     style:{text:'Večerní latence (min)', fill:'#111', font:'26px ' + FONT, align:'center', verticalAlign:'middle'}},
    {type:'text', x:252, y:746,
     style:{text:'Stáří vajec/mláďat ve dnech', fill:'#111', font:'24px ' + FONT, align:'center', verticalAlign:'middle'}},
    {type:'text', x:814, y:746,
     style:{text:'Stáří vajec/mláďat ve dnech', fill:'#111', font:'24px ' + FONT, align:'center', verticalAlign:'middle'}}
  ]
});
</script></body></html>
